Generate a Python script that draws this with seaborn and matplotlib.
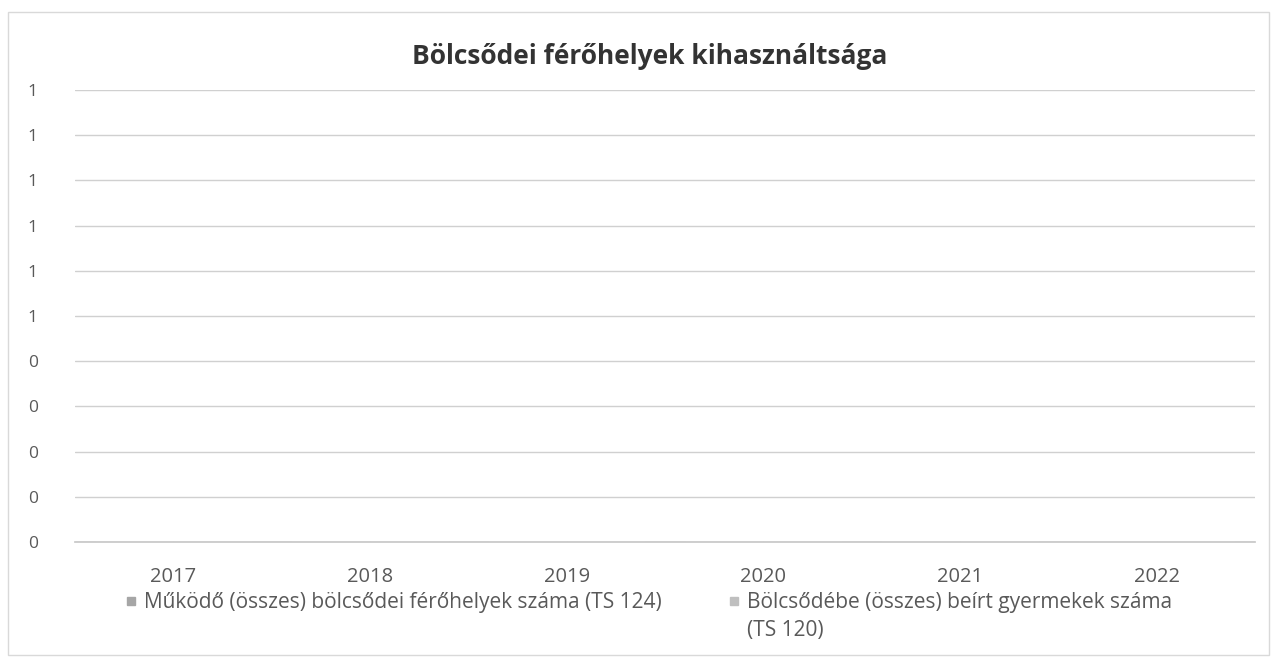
import matplotlib
matplotlib.use("Agg")
import matplotlib.pyplot as plt
import matplotlib.ticker as mticker
from matplotlib.patches import Rectangle
import numpy as np
import pandas as pd
import seaborn as sns

years = ["2017", "2018", "2019", "2020", "2021", "2022"]
ferohelyek = [0, 0, 0, 0, 0, 0]
beirt = [0, 0, 0, 0, 0, 0]
series_names = [
    "Működő (összes) bölcsődei férőhelyek száma (TS 124)",
    "Bölcsődébe (összes) beírt gyermekek száma",
]
label_second_line = "(TS 120)"
y_ticks = np.round(np.arange(0, 1.01, 0.1), 1)

df = pd.DataFrame({
    "Év": years * 2,
    "Érték": ferohelyek + beirt,
    "Sorozat": [series_names[0]] * len(years) + [series_names[1]] * len(years),
})

sns.set_theme(style="white")
plt.rcParams["font.family"] = ["Open Sans", "DejaVu Sans"]
text_color = "#595959"

fig = plt.figure(figsize=(12.74, 6.61), dpi=100)
ax = fig.add_axes([0.059, 0.18, 0.926, 0.684])

colors = ["#a6a6a6", "#bfbfbf"]
sns.barplot(data=df, x="Év", y="Érték", hue="Sorozat", palette=colors, ax=ax)

ax.set_ylim(0, 1)
ax.set_yticks(y_ticks)
# Excel-style rounding to whole numbers (0.5 -> 1)
ax.yaxis.set_major_formatter(mticker.FuncFormatter(lambda v, p: f"{int(np.floor(v + 0.5 + 1e-9))}"))
ax.grid(axis="y", color="#d0d0d0", linewidth=1)
ax.set_axisbelow(True)
for s in ["top", "right", "left"]:
    ax.spines[s].set_visible(False)
ax.spines["bottom"].set_color("#c8c8c8")
ax.tick_params(axis="x", length=0, colors=text_color, labelsize=14.5, pad=18)
ax.tick_params(axis="y", length=0, colors=text_color, labelsize=12.5, pad=27)
ax.set_xlabel("")
ax.set_ylabel("")

ax.get_legend().remove()
handles = [plt.Line2D([], [], marker="s", linestyle="", markersize=6, color=c) for c in colors]
leg = fig.legend(handles, series_names, loc="upper left", bbox_to_anchor=(0.090, 0.117),
                 ncol=2, frameon=False, fontsize=15, labelcolor=text_color,
                 handletextpad=0.2, handlelength=0.8, columnspacing=3.1, borderaxespad=0)

fig.text(0.51, 0.914, "Bölcsődei férőhelyek kihasználtsága", ha="center", va="center",
         fontsize=19, fontweight="bold", color="#333333")

fig.patches.append(Rectangle((0.006, 0.009), 0.99, 0.973, transform=fig.transFigure,
                             fill=False, edgecolor="#d9d9d9", linewidth=1))

# wrapped second line of the second legend entry
fig.canvas.draw()
bb = leg.get_texts()[1].get_window_extent().transformed(fig.transFigure.inverted())
fig.text(bb.x0, bb.y0 - 0.01, label_second_line, ha="left", va="top",
         fontsize=15, color=text_color)

fig.savefig("out.png", dpi=100)
